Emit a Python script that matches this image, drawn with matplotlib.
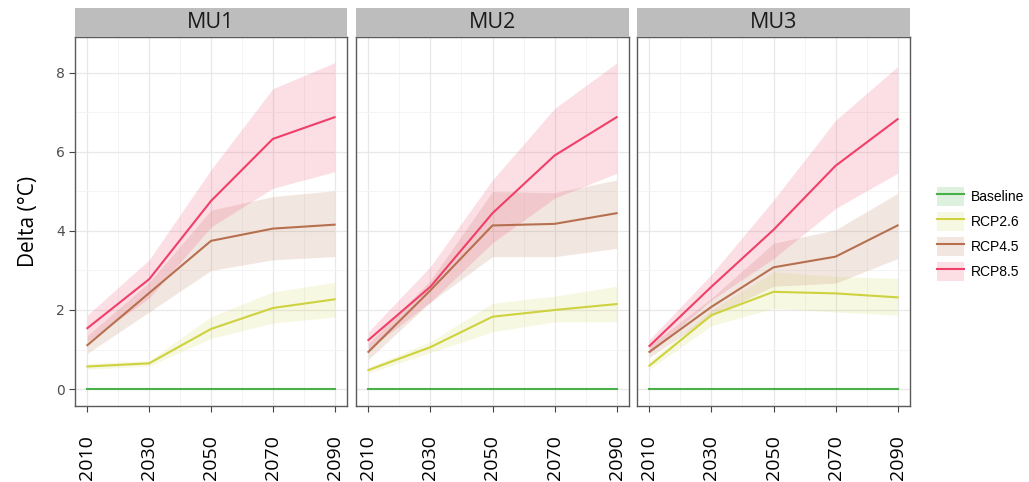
import matplotlib
matplotlib.use("Agg")
import matplotlib.pyplot as plt
from matplotlib.patches import Patch, Rectangle
from matplotlib.lines import Line2D
import numpy as np

years = [2010, 2030, 2050, 2070, 2090]
panels = ["MU1", "MU2", "MU3"]
scenarios = ["Baseline", "RCP2.6", "RCP4.5", "RCP8.5"]
colors = {"Baseline": "#4bb04a", "RCP2.6": "#cdd23e",
          "RCP4.5": "#b7704f", "RCP8.5": "#f03f68"}
band_alpha = {"Baseline": 0.18, "RCP2.6": 0.15, "RCP4.5": 0.17, "RCP8.5": 0.17}

# mean temperature change (°C)
mu1_base = [0, 0, 0, 0, 0]
mu1_rcp26 = [0.57, 0.65, 1.52, 2.05, 2.27]
mu1_rcp45 = [1.11, 2.43, 3.75, 4.06, 4.16]
mu1_rcp85 = [1.54, 2.78, 4.76, 6.33, 6.88]

mu2_base = [0, 0, 0, 0, 0]
mu2_rcp26 = [0.48, 1.06, 1.83, 2.00, 2.15]
mu2_rcp45 = [0.94, 2.50, 4.14, 4.18, 4.45]
mu2_rcp85 = [1.24, 2.59, 4.45, 5.91, 6.88]

mu3_base = [0, 0, 0, 0, 0]
mu3_rcp26 = [0.59, 1.87, 2.46, 2.42, 2.32]
mu3_rcp45 = [0.94, 2.08, 3.08, 3.35, 4.14]
mu3_rcp85 = [1.09, 2.59, 4.03, 5.65, 6.83]

# ensemble ranges (lower, upper)
mu1_rcp26_lo = [0.50, 0.58, 1.28, 1.67, 1.82]
mu1_rcp26_hi = [0.65, 0.72, 1.83, 2.46, 2.70]
mu1_rcp45_lo = [0.90, 1.95, 3.00, 3.27, 3.35]
mu1_rcp45_hi = [1.35, 2.70, 4.53, 4.87, 5.02]
mu1_rcp85_lo = [1.20, 2.30, 4.10, 5.08, 5.50]
mu1_rcp85_hi = [1.87, 3.27, 5.55, 7.60, 8.26]

mu2_rcp26_lo = [0.40, 0.92, 1.45, 1.70, 1.70]
mu2_rcp26_hi = [0.55, 1.20, 2.17, 2.35, 2.60]
mu2_rcp45_lo = [0.75, 2.20, 3.35, 3.35, 3.56]
mu2_rcp45_hi = [1.15, 2.75, 5.00, 4.97, 5.29]
mu2_rcp85_lo = [1.00, 2.20, 3.70, 4.83, 5.46]
mu2_rcp85_hi = [1.45, 3.10, 5.29, 7.10, 8.25]

mu3_rcp26_lo = [0.50, 1.60, 2.04, 1.95, 1.87]
mu3_rcp26_hi = [0.70, 2.00, 2.97, 2.85, 2.80]
mu3_rcp45_lo = [0.80, 1.85, 2.60, 2.68, 3.30]
mu3_rcp45_hi = [1.10, 2.30, 3.69, 4.03, 4.95]
mu3_rcp85_lo = [0.90, 2.25, 3.30, 4.57, 5.46]
mu3_rcp85_hi = [1.25, 2.90, 4.78, 6.80, 8.16]

means = {
    "MU1": [mu1_base, mu1_rcp26, mu1_rcp45, mu1_rcp85],
    "MU2": [mu2_base, mu2_rcp26, mu2_rcp45, mu2_rcp85],
    "MU3": [mu3_base, mu3_rcp26, mu3_rcp45, mu3_rcp85],
}
ranges = {
    "MU1": [(mu1_base, mu1_base), (mu1_rcp26_lo, mu1_rcp26_hi),
            (mu1_rcp45_lo, mu1_rcp45_hi), (mu1_rcp85_lo, mu1_rcp85_hi)],
    "MU2": [(mu2_base, mu2_base), (mu2_rcp26_lo, mu2_rcp26_hi),
            (mu2_rcp45_lo, mu2_rcp45_hi), (mu2_rcp85_lo, mu2_rcp85_hi)],
    "MU3": [(mu3_base, mu3_base), (mu3_rcp26_lo, mu3_rcp26_hi),
            (mu3_rcp45_lo, mu3_rcp45_hi), (mu3_rcp85_lo, mu3_rcp85_hi)],
}

W, H = 1029, 482
fig = plt.figure(figsize=(W / 100, H / 100), dpi=100)

panel_x = [(75, 347), (356, 629), (637, 910)]
top_px, bot_px, strip_top = 37, 406, 8
axes = []
for i, name in enumerate(panels):
    x0, x1 = panel_x[i]
    ax = fig.add_axes([x0 / W, 1 - bot_px / H, (x1 - x0) / W, (bot_px - top_px) / H])
    axes.append(ax)
    for s, mean, (lo, hi) in zip(scenarios, means[name], ranges[name]):
        c = colors[s]
        ax.fill_between(years, lo, hi, color=c, alpha=band_alpha[s], lw=0, zorder=2)
        ax.plot(years, mean, color=c, lw=1.5, zorder=3)
    ax.set_xlim(2006, 2094)
    ax.set_ylim(-0.43, 8.91)
    ax.set_xticks(years)
    ax.set_xticks([2020, 2040, 2060, 2080], minor=True)
    ax.set_yticks([0, 2, 4, 6, 8])
    ax.set_yticks([1, 3, 5, 7], minor=True)
    ax.grid(which="major", color="#e8e8e8", lw=0.9, zorder=0)
    ax.grid(which="minor", color="#f3f3f3", lw=0.6, zorder=0)
    ax.set_axisbelow(True)
    for sp in ax.spines.values():
        sp.set_color("#5a5a5a")
        sp.set_linewidth(1.0)
    ax.tick_params(which="minor", length=0)
    ax.tick_params(axis="x", which="major", length=4, color="#444444",
                   labelrotation=90, labelsize=14, pad=17)
    ax.tick_params(axis="y", which="major", length=4, color="#444444",
                   labelsize=10, labelcolor="#4d4d4d")
    for lab in ax.get_xticklabels():
        lab.set_fontfamily("Open Sans")
    if i > 0:
        ax.tick_params(axis="y", left=False, labelleft=False)
    # facet strip
    fig.patches.append(Rectangle((x0 / W, 1 - top_px / H), (x1 - x0) / W,
                                 (top_px - strip_top) / H, transform=fig.transFigure,
                                 facecolor="#bdbdbd", edgecolor="none", zorder=1))
    fig.text((x0 + x1) / 2 / W, 1 - (top_px + strip_top) / 2 / H, name,
             ha="center", va="center", fontsize=15.5, family="Open Sans",
             color="#1a1a1a")

axes[0].set_ylabel("Delta (°C)", fontsize=15, family="Open Sans", labelpad=12)

handles = []
for s in scenarios:
    handles.append((Patch(facecolor=colors[s], alpha=band_alpha[s], edgecolor="none"),
                    Line2D([], [], color=colors[s], lw=1.5)))
leg = fig.legend(handles, scenarios, loc="center left",
                 bbox_to_anchor=(937 / W, 1 - 234 / H), frameon=False,
                 handlelength=1.95, handleheight=1.7, handletextpad=0.5,
                 labelspacing=0.45, borderpad=0.0, borderaxespad=0.0,
                 prop={"family": "Liberation Sans", "size": 10})

fig.savefig("out.png", dpi=100)
